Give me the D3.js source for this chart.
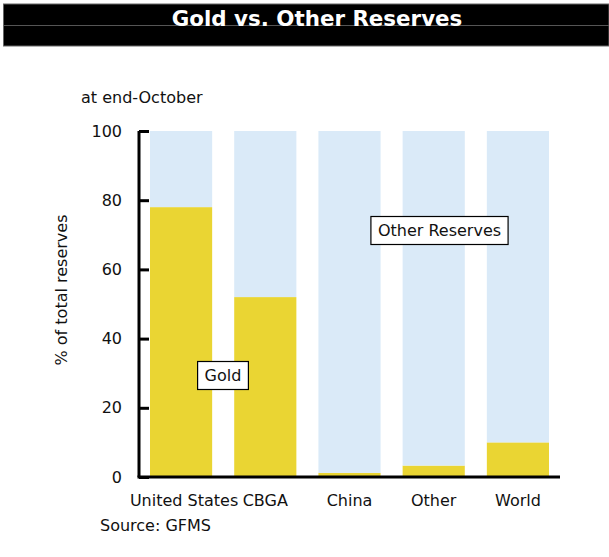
<!DOCTYPE html>
<html>
<head>
<meta charset="utf-8">
<script src="https://cdn.jsdelivr.net/npm/d3@7/dist/d3.min.js"></script>
<style>
  html, body { margin: 0; padding: 0; background: #ffffff; }
  svg { display: block; font-family: "DejaVu Sans", Verdana, sans-serif; }
</style>
</head>
<body>
<svg id="chart" width="609" height="557"></svg>
<script>
// Share of gold in total reserves, at end-October
const categories = ["United States", "CBGA", "China", "Other", "World"];
const goldShare = [78.0, 52.0, 1.2, 3.3, 10.0];
const yTicks = [0, 20, 40, 60, 80, 100];

const otherShare = goldShare.map(v => 100 - v);
const rows = categories.map((c, i) => ({ category: c, gold: goldShare[i], other: otherShare[i] }));

const svg = d3.select("#chart");
const W = 609, H = 557;

// Title banner
svg.append("rect").attr("x", 3.5).attr("y", 4).attr("width", W - 3.5).attr("height", 42)
  .attr("fill", "#000").attr("stroke", "#666").attr("stroke-width", 1);
svg.append("line").attr("x1", 4).attr("x2", W).attr("y1", 25.5).attr("y2", 25.5)
  .attr("stroke", "#555").attr("stroke-width", 1);
svg.append("text").attr("x", 317).attr("y", 26)
  .attr("text-anchor", "middle").attr("fill", "#fff")
  .attr("font-weight", "bold").attr("font-size", 21.4)
  .text("Gold vs. Other Reserves");

// Plot area
const plot = { left: 139, right: 560, top: 131, bottom: 477 };

const x = d3.scaleBand()
  .domain(categories)
  .range([150, 549])
  .paddingInner(22 / 84)
  .paddingOuter(0);

const y = d3.scaleLinear().domain([0, 100]).range([plot.bottom, plot.top]);

const stack = d3.stack().keys(["gold", "other"]);
const series = stack(rows);
const colors = { gold: "#ead533", other: "#daeaf8" };

svg.append("g").selectAll("g")
  .data(series)
  .join("g")
  .attr("fill", d => colors[d.key])
  .selectAll("rect")
  .data(d => d)
  .join("rect")
  .attr("x", d => x(d.data.category))
  .attr("width", x.bandwidth())
  .attr("y", d => y(d[1]))
  .attr("height", d => y(d[0]) - y(d[1]));

// Y axis with inward ticks
const yAxis = d3.axisLeft(y).tickValues(yTicks).tickSize(-10).tickPadding(17);
const gy = svg.append("g").attr("transform", `translate(${plot.left},0)`).call(yAxis);
gy.select(".domain").attr("stroke", "#000").attr("stroke-width", 3)
  .attr("d", `M0,${plot.top}V${plot.bottom}`);
gy.selectAll(".tick line").attr("stroke", "#000").attr("stroke-width", 3);
gy.selectAll(".tick text").attr("font-size", 16).attr("fill", "#111")
  .attr("font-family", "DejaVu Sans, Verdana, sans-serif");

// X axis baseline
const xAxis = d3.axisBottom(x).tickSize(0).tickPadding(18);
const gx = svg.append("g").attr("transform", `translate(0,${plot.bottom})`).call(xAxis);
gx.select(".domain").attr("stroke", "#000").attr("stroke-width", 3)
  .attr("d", `M${plot.left - 1.5},0H${plot.right}`);
gx.selectAll(".tick text").attr("font-size", 16).attr("fill", "#111")
  .attr("font-family", "DejaVu Sans, Verdana, sans-serif")
  .attr("dy", "0.71em")
  .attr("dx", d => d === "United States" ? 3 : 0);

// Axis annotations
svg.append("text").attr("x", 81).attr("y", 103).attr("font-size", 16).attr("fill", "#111")
  .text("at end-October");
svg.append("text").attr("transform", "translate(67,290) rotate(-90)")
  .attr("text-anchor", "middle").attr("font-size", 16).attr("fill", "#111")
  .text("% of total reserves");
svg.append("text").attr("x", 100).attr("y", 531).attr("font-size", 16).attr("fill", "#111")
  .text("Source: GFMS");

// Series labels in boxes
function boxLabel(cx, cy, label) {
  const g = svg.append("g");
  const t = g.append("text").attr("x", cx).attr("y", cy).attr("text-anchor", "middle")
    .attr("dominant-baseline", "central").attr("font-size", 16).attr("fill", "#111").text(label);
  const bb = t.node().getBBox();
  g.insert("rect", "text")
    .attr("x", bb.x - 7).attr("y", cy - 13.5).attr("width", bb.width + 14).attr("height", 28)
    .attr("fill", "#fff").attr("stroke", "#000").attr("stroke-width", 1.2);
}
boxLabel(223, 375, "Gold");
boxLabel(439.5, 230, "Other Reserves");
</script>
</body>
</html>
